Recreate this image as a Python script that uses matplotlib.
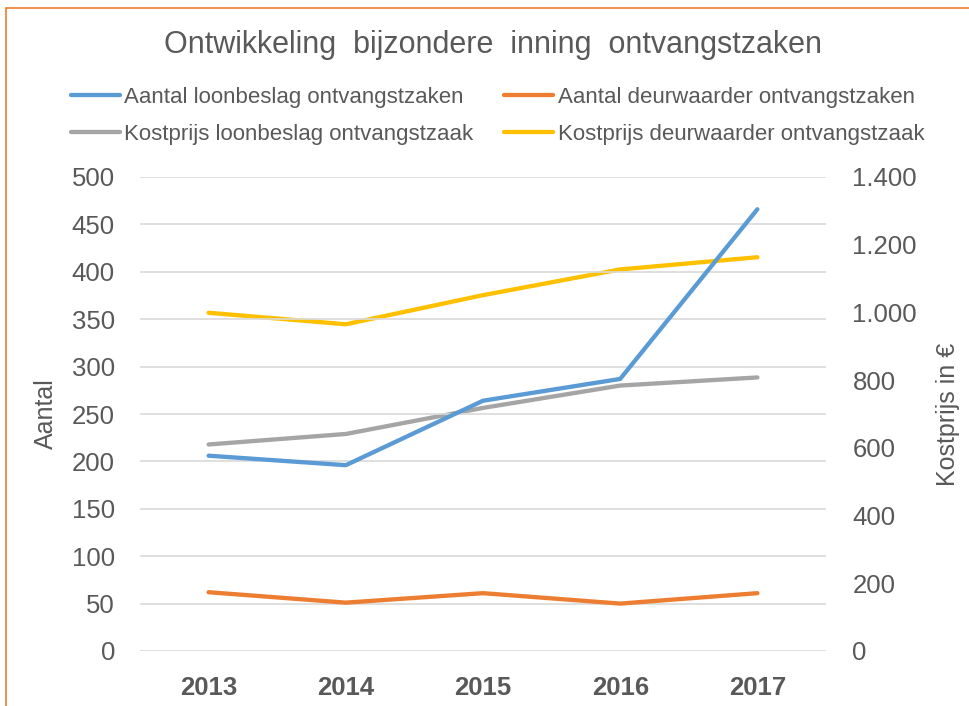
import matplotlib
matplotlib.use("Agg")
import matplotlib.pyplot as plt
from matplotlib.patches import Rectangle
from matplotlib.ticker import FuncFormatter

# data
years = ["2013", "2014", "2015", "2016", "2017"]
aantal_loonbeslag = [206, 196, 264, 287, 466]
aantal_deurwaarder = [62, 51, 61, 50, 61]
kostprijs_loonbeslag = [610, 641, 718, 784, 808]
kostprijs_deurwaarder = [999, 965, 1051, 1127, 1163]

BLUE = "#5B9BD5"
ORANGE = "#ED7D31"
GRAY = "#A5A5A5"
YELLOW = "#FFC000"
TEXT = "#595959"

plt.rcParams["font.family"] = ["Liberation Sans", "DejaVu Sans"]

fig = plt.figure(figsize=(9.7, 7.06), dpi=100)
ax = fig.add_axes([140 / 970, 1 - 651 / 706, 686 / 970, 474 / 706])
ax2 = ax.twinx()

x = range(len(years))
lw = 3.1
l1, = ax.plot(x, aantal_loonbeslag, color=BLUE, lw=lw, solid_capstyle="round",
              solid_joinstyle="round", label="Aantal loonbeslag ontvangstzaken", zorder=3)
l2, = ax.plot(x, aantal_deurwaarder, color=ORANGE, lw=lw, solid_capstyle="round",
              solid_joinstyle="round", label="Aantal deurwaarder ontvangstzaken", zorder=3)
l3, = ax2.plot(x, kostprijs_loonbeslag, color=GRAY, lw=lw, solid_capstyle="round",
               solid_joinstyle="round", label="Kostprijs loonbeslag ontvangstzaak")
l4, = ax2.plot(x, kostprijs_deurwaarder, color=YELLOW, lw=lw, solid_capstyle="round",
               solid_joinstyle="round", label="Kostprijs deurwaarder ontvangstzaak")

# put the left-axis lines above the right-axis ones
ax.set_zorder(ax2.get_zorder() + 1)
ax.patch.set_visible(False)

ax.set_xlim(-0.5, len(years) - 0.5)
ax.set_ylim(0, 500)
ax.set_yticks(range(0, 501, 50))
ax2.set_ylim(0, 1400)
ax2.set_yticks(range(0, 1401, 200))
ax2.yaxis.set_major_formatter(FuncFormatter(lambda v, p: f"{int(v):,}".replace(",", ".")))

ax.set_xticks(list(x))
ax.set_xticklabels(years, fontsize=18, fontweight="bold", color=TEXT)
ax.grid(axis="y", color="#D9D9D9", lw=1.2)
ax.set_axisbelow(True)

for a in (ax, ax2):
    for s in a.spines.values():
        s.set_visible(False)
    a.tick_params(length=0, labelsize=18.5, labelcolor=TEXT)
ax.tick_params(axis="y", pad=18)
ax.tick_params(axis="x", pad=18)
ax2.tick_params(axis="y", pad=19)

ax.set_ylabel("Aantal", fontsize=18, color=TEXT, labelpad=10)
ax2.set_ylabel("Kostprijs in €", fontsize=18, color=TEXT, labelpad=14)

fig.text(0.508, 1 - 45 / 706, "Ontwikkeling  bijzondere  inning  ontvangstzaken",
         ha="center", va="center", fontsize=22, color=TEXT)

fig.legend([l1, l3, l2, l4], [l1.get_label(), l3.get_label(), l2.get_label(), l4.get_label()],
           ncol=2, loc="center", bbox_to_anchor=(0.513, 1 - 116 / 706), frameon=False,
           fontsize=16, labelcolor=TEXT, handlelength=2.2, handletextpad=0.2,
           columnspacing=1.4, labelspacing=0.7)

fig.patches.append(Rectangle((6 / 970, -0.1), 1.2, 1 - 8 / 706 + 0.1,
                             transform=fig.transFigure, fill=False,
                             edgecolor=ORANGE, lw=1.2))

fig.savefig("out.png", dpi=100, facecolor="white")
